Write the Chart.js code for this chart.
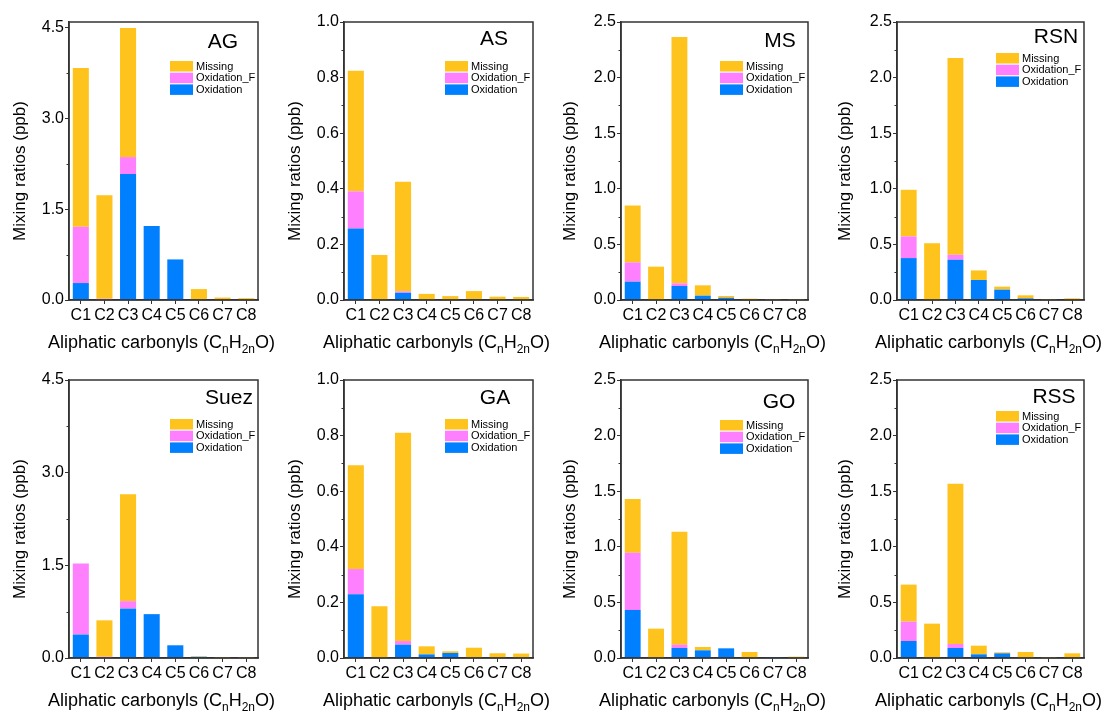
<!DOCTYPE html>
<html>
<head>
<meta charset="utf-8">
<title>Aliphatic carbonyls</title>
<script src="https://cdn.jsdelivr.net/npm/chart.js@4.4.0/dist/chart.umd.min.js"></script>
<style>
	html, body { margin: 0; padding: 0; background: #fff; }
	#wrap { position: relative; width: 1102px; height: 713px; overflow: hidden; }
	#wrap canvas { position: absolute; }
</style>
</head>
<body>
<div id="wrap"></div>
<script>
'use strict';

// Data (ppb)
var categories = ['C1', 'C2', 'C3', 'C4', 'C5', 'C6', 'C7', 'C8'];
var sites = ['AG', 'AS', 'MS', 'RSN', 'Suez', 'GA', 'GO', 'RSS'];
var seriesNames = ['Oxidation', 'Oxidation_F', 'Missing'];

var agOxidation   = [0.28, 0, 2.08, 1.22, 0.67, 0.01, 0, 0];
var agOxidationF  = [0.93, 0.02, 0.28, 0, 0, 0, 0, 0];
var agMissing     = [2.62, 1.71, 2.13, 0, 0, 0.17, 0.04, 0.03];

var asOxidation   = [0.257, 0, 0.026, 0, 0, 0.003, 0, 0.002];
var asOxidationF  = [0.134, 0, 0.005, 0, 0, 0, 0, 0];
var asMissing     = [0.434, 0.162, 0.394, 0.022, 0.014, 0.029, 0.012, 0.009];

var msOxidation   = [0.165, 0, 0.126, 0.039, 0.02, 0, 0, 0];
var msOxidationF  = [0.173, 0, 0.024, 0, 0, 0, 0, 0];
var msMissing     = [0.512, 0.30, 2.215, 0.093, 0.016, 0.012, 0.009, 0.009];

var rsnOxidation  = [0.377, 0, 0.362, 0.18, 0.093, 0.015, 0, 0];
var rsnOxidationF = [0.195, 0, 0.045, 0, 0, 0, 0, 0];
var rsnMissing    = [0.419, 0.51, 1.77, 0.086, 0.027, 0.027, 0.009, 0.015];

var suezOxidation  = [0.38, 0, 0.80, 0.71, 0.206, 0.02, 0, 0];
var suezOxidationF = [1.15, 0.02, 0.12, 0, 0, 0, 0, 0];
var suezMissing    = [0, 0.59, 1.73, 0, 0, 0.007, 0.016, 0.016];

var gaOxidation   = [0.229, 0, 0.048, 0.013, 0.018, 0, 0, 0];
var gaOxidationF  = [0.091, 0, 0.013, 0, 0, 0, 0, 0];
var gaMissing     = [0.373, 0.186, 0.749, 0.029, 0.006, 0.037, 0.017, 0.016];

var goOxidation   = [0.432, 0, 0.09, 0.069, 0.087, 0, 0.008, 0];
var goOxidationF  = [0.514, 0, 0.03, 0, 0, 0, 0, 0];
var goMissing     = [0.483, 0.264, 1.015, 0.03, 0, 0.054, 0, 0.012];

var rssOxidation  = [0.153, 0, 0.09, 0.033, 0.042, 0, 0, 0];
var rssOxidationF = [0.174, 0, 0.036, 0, 0, 0, 0, 0];
var rssMissing    = [0.333, 0.309, 1.442, 0.078, 0.009, 0.054, 0.009, 0.042];

var siteSeries = [
	[agOxidation, agOxidationF, agMissing],
	[asOxidation, asOxidationF, asMissing],
	[msOxidation, msOxidationF, msMissing],
	[rsnOxidation, rsnOxidationF, rsnMissing],
	[suezOxidation, suezOxidationF, suezMissing],
	[gaOxidation, gaOxidationF, gaMissing],
	[goOxidation, goOxidationF, goMissing],
	[rssOxidation, rssOxidationF, rssMissing]
];

// y axis range and major tick step per panel
var yMax  = [4.59, 1.0, 2.5, 2.5, 4.5, 1.0, 2.5, 2.5];
var yStep = [1.5, 0.2, 0.5, 0.5, 1.5, 0.2, 0.5, 0.5];

// Styling / layout
var seriesColors = ['#0080FF', '#FF80FF', '#FFC31E'];
var FONT = '"Liberation Sans", Arial, Helvetica, sans-serif';
var colX = [0, 275, 550, 825], colW = [275, 275, 275, 277];
var rowY = [0, 356], rowH = [356, 357];
var plotLeft = [69, 69, 71, 72], plotRight = [258, 258, 258, 259];
var plotTop = [22, 24], plotBottom = [300, 302];
var nameDx = [35, 39, 28, 28, 29, 38, 29, 30];
var nameDy = [26, 23, 25, 21, 24, 24, 28, 23];
var legendDy = [39, 39, 39, 31, 39, 39, 40, 31];

function isMajor(v, step) {
	var r = v / step;
	return Math.abs(r - Math.round(r)) < 1e-6;
}

// frame, minor ticks, site name, inset legend, axis titles
var decorPlugin = {
	id: 'decor',
	afterDraw: function (chart, args, opts) {
		var ctx = chart.ctx;
		var a = chart.chartArea;
		var yScale = chart.scales.y;
		ctx.save();

		// minor y ticks
		ctx.strokeStyle = '#333';
		ctx.lineWidth = 1;
		for (var v = opts.step / 2; v < yScale.max; v += opts.step) {
			var py = Math.round(yScale.getPixelForValue(v)) + 0.5;
			ctx.beginPath();
			ctx.moveTo(a.left - 2.5, py);
			ctx.lineTo(a.left, py);
			ctx.stroke();
		}

		// frame
		ctx.lineWidth = 1.5;
		ctx.strokeRect(a.left, a.top, a.right - a.left, a.bottom - a.top);

		// site name
		ctx.fillStyle = '#000';
		ctx.font = '21px ' + FONT;
		ctx.textAlign = 'center';
		ctx.textBaseline = 'alphabetic';
		ctx.fillText(opts.name, a.right - opts.nameDx, a.top + opts.nameDy);

		// legend (top series first)
		var ds = chart.data.datasets;
		ctx.font = '11px ' + FONT;
		ctx.textAlign = 'left';
		ctx.textBaseline = 'middle';
		var lx = a.right - 88;
		for (var i = ds.length - 1, row = 0; i >= 0; i--, row++) {
			var ly = a.top + opts.legendDy + row * 11.7;
			ctx.fillStyle = ds[i].backgroundColor;
			ctx.fillRect(lx, ly, 23, 10.5);
			ctx.fillStyle = '#000';
			ctx.fillText(ds[i].label, lx + 26, ly + 5.5);
		}

		// x title with subscripts
		var parts = [['Aliphatic carbonyls (C', false], ['n', true], ['H', false], ['2n', true], ['O)', false]];
		var big = '18px ' + FONT, small = '12px ' + FONT;
		var total = 0;
		parts.forEach(function (p) {
			ctx.font = p[1] ? small : big;
			total += ctx.measureText(p[0]).width;
		});
		var x = (a.left + a.right) / 2 - total / 2 - 2;
		var base = a.bottom + 48;
		ctx.textBaseline = 'alphabetic';
		ctx.fillStyle = '#000';
		parts.forEach(function (p) {
			ctx.font = p[1] ? small : big;
			ctx.fillText(p[0], x, p[1] ? base + 5 : base);
			x += ctx.measureText(p[0]).width;
		});

		// y title
		ctx.translate(20, (a.top + a.bottom) / 2 + 10);
		ctx.rotate(-Math.PI / 2);
		ctx.font = '17px ' + FONT;
		ctx.textAlign = 'center';
		ctx.textBaseline = 'middle';
		ctx.fillText('Mixing ratios (ppb)', 0, 0);

		ctx.restore();
	}
};

function makePanel(k) {
	var col = k % 4, row = Math.floor(k / 4);
	var w = colW[col], h = rowH[row];
	var canvas = document.createElement('canvas');
	canvas.width = w;
	canvas.height = h;
	canvas.style.left = colX[col] + 'px';
	canvas.style.top = rowY[row] + 'px';
	canvas.style.width = w + 'px';
	canvas.style.height = h + 'px';
	document.getElementById('wrap').appendChild(canvas);

	var step = yStep[k];
	var datasets = seriesNames.map(function (name, i) {
		return {
			label: name,
			data: siteSeries[k][i],
			backgroundColor: seriesColors[i],
			borderWidth: 0,
			barPercentage: 0.68,
			categoryPercentage: 1.0
		};
	});

	return new Chart(canvas, {
		type: 'bar',
		data: { labels: categories, datasets: datasets },
		options: {
			responsive: false,
			animation: false,
			devicePixelRatio: 1,
			layout: {
				padding: { left: 0, right: w - plotRight[col], top: plotTop[row], bottom: 0 }
			},
			plugins: {
				legend: { display: false },
				tooltip: { enabled: false },
				decor: {
					name: sites[k],
					step: step,
					nameDx: nameDx[k],
					nameDy: nameDy[k],
					legendDy: legendDy[k]
				}
			},
			scales: {
				x: {
					stacked: true,
					offset: true,
					border: { display: true, color: '#333', width: 1.5 },
					grid: { drawOnChartArea: false, drawTicks: true, tickLength: 4, offset: false, color: '#333' },
					ticks: {
						color: '#000',
						font: { family: FONT, size: 16 },
						padding: 2,
						maxRotation: 0,
						autoSkip: false
					},
					afterFit: function (scale) { scale.height = h - plotBottom[row]; }
				},
				y: {
					stacked: true,
					min: 0,
					max: yMax[k],
					border: { display: true, color: '#333', width: 1.5 },
					grid: { drawOnChartArea: false, drawTicks: true, tickLength: 4, color: '#333' },
					ticks: {
						stepSize: step,
						includeBounds: false,
						color: '#000',
						font: { family: FONT, size: 16 },
						padding: 1,
						callback: function (value) {
							return isMajor(value, step) ? value.toFixed(1) : '';
						}
					},
					afterFit: function (scale) { scale.width = plotLeft[col]; }
				}
			}
		},
		plugins: [decorPlugin]
	});
}

for (var k = 0; k < sites.length; k++) {
	makePanel(k);
}
</script>
</body>
</html>
